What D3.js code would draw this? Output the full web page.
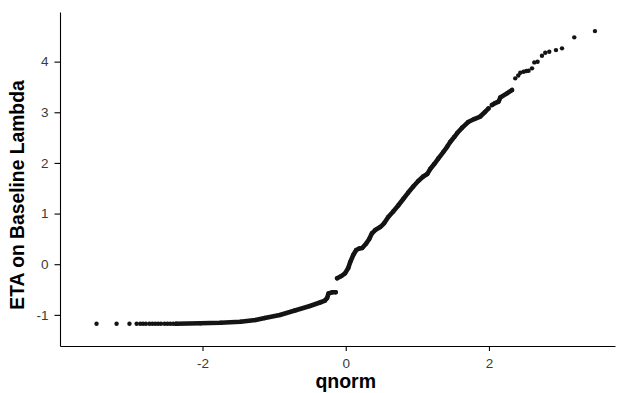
<!DOCTYPE html>
<html>
<head>
<meta charset="utf-8">
<script src="https://cdn.jsdelivr.net/npm/d3@7"></script>
<style>
  body { margin: 0; background: #fff; }
  text { font-family: "Liberation Sans", Arial, Helvetica, sans-serif; }
</style>
</head>
<body>
<div id="qq_plot"></div>
<script>
// theoretical quantile (x) and sample value (y)
// seg: points sharing an id are dense enough to merge into one stroke, null = lone dot
var qnormX = [
  -3.48, -3.20, -3.02, -2.92, -2.87, -2.83, -2.79, -2.74, -2.70, -2.66, -2.62, -2.58, -2.53, -2.49, -2.45, -2.41,
  -2.37, -2.03, -1.75, -1.47, -1.26, -1.13, -0.92, -0.71, -0.50, -0.36, -0.29, -0.26, -0.24, -0.19, -0.14,
  -0.12, -0.06, -0.01, 0.035, 0.063, 0.105, 0.147, 0.189, 0.230, 0.286, 0.328, 0.366, 0.412, 0.482, 0.538, 0.594,
  0.663, 0.733, 0.803, 0.873, 0.943, 1.013, 1.082, 1.138, 1.180, 1.236, 1.292, 1.362, 1.418, 1.459, 1.515, 1.557,
  1.627, 1.711, 1.795, 1.878, 1.948, 1.994,
  2.042, 2.088, 2.134, 2.158, 2.251, 2.321,
  2.367, 2.409, 2.437, 2.483, 2.521, 2.553, 2.601, 2.633, 2.679, 2.740, 2.786, 2.842, 2.936, 3.020, 3.191, 3.480
];
var etaY = [
  -1.176, -1.176, -1.176, -1.176, -1.176, -1.176, -1.176, -1.176, -1.176, -1.176, -1.176, -1.176, -1.176, -1.176, -1.176, -1.176,
  -1.176, -1.165, -1.157, -1.137, -1.101, -1.062, -1.003, -0.914, -0.825, -0.756, -0.717, -0.667, -0.578, -0.555, -0.555,
  -0.278, -0.233, -0.180, -0.075, 0.043, 0.182, 0.280, 0.310, 0.320, 0.409, 0.497, 0.610, 0.675, 0.734, 0.813, 0.932,
  1.040, 1.159, 1.287, 1.415, 1.534, 1.642, 1.731, 1.780, 1.879, 1.978, 2.086, 2.215, 2.323, 2.412, 2.511, 2.590,
  2.698, 2.807, 2.866, 2.916, 3.010, 3.077,
  3.143, 3.182, 3.212, 3.291, 3.373, 3.439,
  3.670, 3.725, 3.780, 3.800, 3.814, 3.820, 3.867, 3.985, 3.997, 4.116, 4.175, 4.195, 4.228, 4.262, 4.479, 4.603
];
var seg = [
  null, null, null, null, null, null, null, null, null, null, null, null, null, null, null, null,
  1, 1, 1, 1, 1, 1, 1, 1, 1, 1, 1, 1, 1, 1, 1,
  2, 2, 2, 2, 2, 2, 2, 2, 2, 2, 2, 2, 2, 2, 2, 2,
  2, 2, 2, 2, 2, 2, 2, 2, 2, 2, 2, 2, 2, 2, 2, 2,
  2, 2, 2, 2, 2, 2,
  3, 3, 3, 3, 3, 3,
  null, null, null, null, null, null, null, null, null, null, null, null, null, null, null, null
];
var xTicks = [-2, 0, 2];
var yTicks = [-1, 0, 1, 2, 3, 4];
var xTitle = "qnorm";
var yTitle = "ETA on Baseline Lambda";

var width = 622, height = 393;
var margin = { top: 12, right: 7, bottom: 47, left: 60 };

var svg = d3.select("#qq_plot")
  .append("svg")
  .attr("width", width)
  .attr("height", height);

var x = d3.scaleLinear()
  .domain([-3.99, 3.76])
  .range([margin.left, width - margin.right]);

var y = d3.scaleLinear()
  .domain([-1.615, 4.98])
  .range([height - margin.bottom, margin.top]);

var pts = qnormX.map(function (d, i) { return { x: d, y: etaY[i], seg: seg[i] }; });

// dense stretches drawn as a thick stroke so the overlapping dots read as one band
var runs = d3.groups(pts.filter(function (d) { return d.seg !== null; }), function (d) { return d.seg; });
var line = d3.line().x(function (d) { return x(d.x); }).y(function (d) { return y(d.y); });

svg.append("g")
  .selectAll("path")
  .data(runs)
  .enter().append("path")
  .attr("d", function (d) { return line(d[1]); })
  .attr("fill", "none")
  .attr("stroke", "#141414")
  .attr("stroke-width", 4.6)
  .attr("stroke-linecap", "round")
  .attr("stroke-linejoin", "round");

svg.append("g")
  .selectAll("circle")
  .data(pts)
  .enter().append("circle")
  .attr("cx", function (d) { return x(d.x); })
  .attr("cy", function (d) { return y(d.y); })
  .attr("r", 2.2)
  .attr("fill", "#141414");

// plain hyphen labels, no decimals
var fmt = function (d) { return String(d); };

var xAxis = svg.append("g")
  .attr("transform", "translate(0," + (height - margin.bottom) + ")")
  .call(d3.axisBottom(x).tickValues(xTicks).tickFormat(fmt).tickSize(5).tickPadding(7.5).tickSizeOuter(0));

var yAxis = svg.append("g")
  .attr("transform", "translate(" + margin.left + ",0)")
  .call(d3.axisLeft(y).tickValues(yTicks).tickFormat(fmt).tickSize(5.5).tickPadding(6).tickSizeOuter(0));

[xAxis, yAxis].forEach(function (g) {
  g.select(".domain").attr("stroke", "#000").attr("stroke-width", 1.1);
  g.selectAll(".tick line").attr("stroke", "#000").attr("stroke-width", 1.1);
  g.selectAll(".tick text")
    .attr("fill", "#3a3a3a")
    .style("font-size", "13.5px")
    .style("font-family", "'Liberation Sans', Arial, sans-serif");
});

svg.append("text")
  .attr("x", x(0))
  .attr("y", 388)
  .attr("text-anchor", "middle")
  .attr("font-weight", "bold")
  .style("font-size", "19.5px")
  .text(xTitle);

svg.append("text")
  .attr("transform", "translate(24,195) rotate(-90)")
  .attr("text-anchor", "middle")
  .attr("font-weight", "bold")
  .style("font-size", "19.3px")
  .text(yTitle);
</script>
</body>
</html>
